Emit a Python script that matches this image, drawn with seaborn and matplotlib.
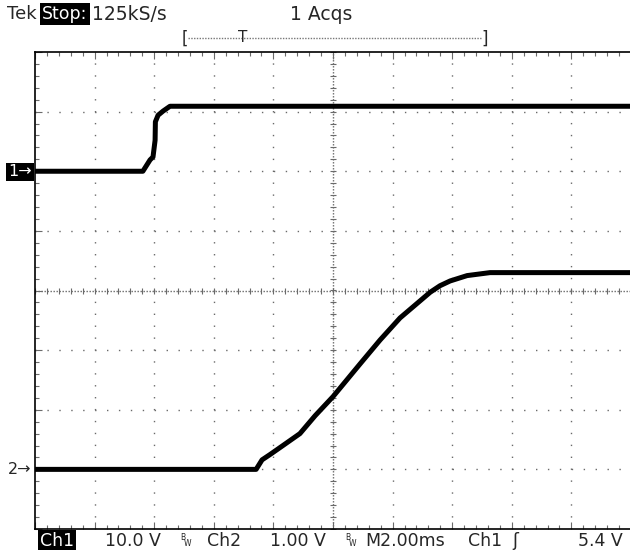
import numpy as np
import pandas as pd
import seaborn as sns
import matplotlib.pyplot as plt

# ---------------------------------------------------------------
#  scope capture: Ch1 (10 V/div) step, Ch2 (1 V/div) slow ramp
#  time base 2 ms/div, 10 divisions across, 8 divisions high
# ---------------------------------------------------------------

# Ch1 trace
ch1_time_ms = [0, 3.62, 3.86, 3.96, 4.03, 4.04, 4.13, 4.30, 4.53, 20]
ch1_volts   = [0, 0, 1.9, 2.4, 5.2, 8.3, 9.4, 10.1, 10.9, 10.9]

# Ch2 trace
ch2_time_ms = [0, 7.42, 7.62, 7.89, 8.32, 8.89, 9.40, 10.0, 10.91,
               11.58, 12.25, 13.26, 13.59, 13.93, 14.50, 15.27, 20]
ch2_volts   = [0, 0, 0.16, 0.25, 0.40, 0.60, 0.90, 1.22, 1.77,
               2.17, 2.54, 2.97, 3.08, 3.16, 3.25, 3.30, 3.30]

# channel settings (volts per division, ground marker position in div)
ch1_vdiv, ch1_ground = 10.0, 2.0
ch2_vdiv, ch2_ground = 1.0, -3.0
ms_per_div = 2.0

# readout texts
bottom_labels = ["10.0 V", "Ch2", "1.00 V", "M2.00ms", "Ch1", "5.4 V"]
bottom_x      = [105, 207, 270, 365, 468, 578]

df1 = pd.DataFrame({"ms": ch1_time_ms,
                    "div": np.array(ch1_volts) / ch1_vdiv + ch1_ground})
df2 = pd.DataFrame({"ms": ch2_time_ms,
                    "div": np.array(ch2_volts) / ch2_vdiv + ch2_ground})

sns.set_style("white")
plt.rcParams["font.family"] = ["DejaVu Sans"]

W, H = 630, 550
fig = plt.figure(figsize=(W / 100, H / 100), dpi=100)
ax = fig.add_axes([35 / W, (H - 529) / H, 596 / W, 477 / H])

# ── graticule ───────────────────────────────────────────────
grid_col = "#6a6a6a"
for d in range(1, 10):
    if d == 5:
        continue
    ax.axvline(d * ms_per_div, color=grid_col, lw=1, ls=(0, (1, 7.58)), zorder=1)
for d in range(-3, 4):
    if d == 0:
        continue
    ax.axhline(d, color=grid_col, lw=1, ls=(0, (1, 7.58)), zorder=1)

# centre cross with fine ticks
ax.axhline(0, color=grid_col, lw=1, ls=(0, (1, 1.16)), zorder=1)
ax.axvline(5 * ms_per_div, color=grid_col, lw=1, ls=(0, (1, 1.16)), zorder=1)
xm = np.arange(0, 20.01, 0.4)
ym = np.arange(-4, 4.01, 0.2)
ax.plot(xm, np.zeros_like(xm), ls="none", marker="|", ms=5, mew=0.8,
        color=grid_col, zorder=1)
ax.plot(np.full_like(ym, 10.0), ym, ls="none", marker="_", ms=5, mew=0.8,
        color=grid_col, zorder=1)

# ── traces ──────────────────────────────────────────────────
for df in (df1, df2):
    sns.lineplot(data=df, x="ms", y="div", ax=ax, color="black",
                 linewidth=3.6, sort=False, estimator=None, zorder=3)

ax.set_xlim(0, 20)
ax.set_ylim(-4, 4)
ax.set_xticks(np.arange(0, 20.01, 2))
ax.set_xticks(xm, minor=True)
ax.set_yticks(np.arange(-4, 4.01, 1))
ax.set_yticks(ym, minor=True)
ax.tick_params(which="both", direction="in", top=True, bottom=True,
               left=True, right=False, labelbottom=False, labelleft=False,
               color=grid_col, width=0.8)
ax.tick_params(which="major", length=5)
ax.tick_params(which="minor", length=3)
ax.set_xlabel("")
ax.set_ylabel("")
for side in ["left", "top", "bottom"]:
    ax.spines[side].set_color("black")
    ax.spines[side].set_linewidth(1.2)
ax.spines["right"].set_visible(False)


def put(x, y, s, **kw):
    kw.setdefault("va", "center")
    kw.setdefault("ha", "left")
    kw.setdefault("fontsize", 12.5)
    return fig.text(x / W, 1 - y / H, s, **kw)


inv = dict(boxstyle="square,pad=0.12", fc="black", ec="none")

# ── top status line ─────────────────────────────────────────
put(7, 14, "Tek", fontsize=13)
put(65, 14, "Stop:", ha="center", color="white", bbox=inv, fontsize=12.5)
put(92, 14, "125kS/s", fontsize=13.5)
put(290, 14, "1 Acqs", fontsize=13.5)

# record / trigger position bar
put(182, 39, "[", fontsize=12)
put(481, 39, "]", fontsize=12)
fig.add_artist(plt.Line2D([188 / W, 481 / W], [1 - 38 / H, 1 - 38 / H],
                          color="#777", lw=1, ls=(0, (1, 1))))
put(243, 37, "T", ha="center", fontsize=11)

# ── channel ground markers ──────────────────────────────────
put(8, 172, "1\u2192", color="white", bbox=inv, fontsize=11.5)
put(8, 469, "2\u2192", fontsize=11.5)

# ── bottom readout ──────────────────────────────────────────
put(40, 541, "Ch1", color="white", bbox=inv)
for s, x in zip(bottom_labels, bottom_x):
    put(x, 541, s)
for bx in (180, 345):
    put(bx, 537, "B", fontsize=5.5)
    put(bx + 4, 544, "W", fontsize=5.5)
put(512, 541, "\u0283")

fig.savefig("out.png", dpi=100)
